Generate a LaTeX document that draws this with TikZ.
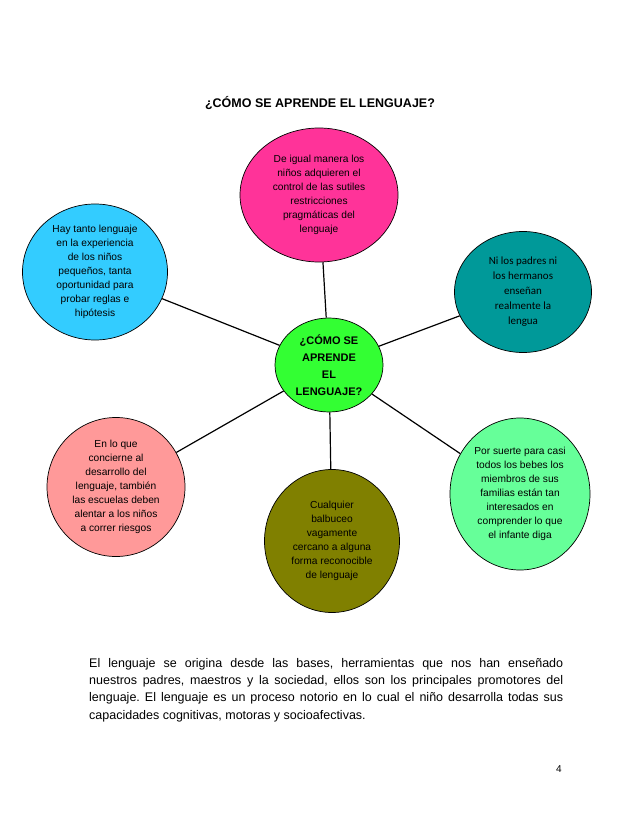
\documentclass[tikz,border=0pt]{standalone}
\usepackage{fontspec}
\setmainfont{Liberation Sans}
\newfontfamily\tealfont{Carlito}
\usetikzlibrary{shapes.geometric}
\definecolor{Pink}{HTML}{FF3399}
\definecolor{Sky}{HTML}{33CCFF}
\definecolor{Teal}{HTML}{009999}
\definecolor{Lime}{HTML}{33FF33}
\definecolor{Salmon}{HTML}{FF9999}
\definecolor{Mint}{HTML}{66FF99}
\definecolor{Olive}{HTML}{808000}
\frenchspacing

\begin{document}
\begin{tikzpicture}[
  x=1pt, y=-1pt,
  bubble/.style={ellipse, draw=black, line width=0.7pt, inner sep=0pt, align=center,
    font=\fontsize{10.2}{14}\selectfont},
  link/.style={draw=black, line width=1.2pt}
]
\useasboundingbox[fill=white] (0,0) rectangle (638,826);

\node[font=\bfseries\fontsize{12.5}{14}\selectfont] (title) at (320,103) {¿CÓMO SE APRENDE EL LENGUAJE?};

% centre and the six bubbles round it
\node[bubble, fill=Lime, minimum width=108pt, minimum height=94pt,
  font=\bfseries\fontsize{11}{17}\selectfont] (hub) at (329,365) {¿CÓMO SE\\APRENDE\\EL\\LENGUAJE?};
\node[bubble, fill=Pink, minimum width=158pt, minimum height=134pt] (pragm) at (319,195)
  {De igual manera los\\niños adquieren el\\control de las sutiles\\restricciones\\pragmáticas del\\lenguaje};
\node[bubble, fill=Sky, minimum width=145pt, minimum height=136pt] (exper) at (95,272)
  {Hay tanto lenguaje\\en la experiencia\\de los niños\\pequeños, tanta\\oportunidad para\\probar reglas e\\hipótesis};
\node[bubble, fill=Teal, minimum width=137pt, minimum height=121pt,
  font=\tealfont\fontsize{11}{15}\selectfont] (padres) at (523,292)
  {Ni los padres ni\\los hermanos\\enseñan\\realmente la\\lengua};
\node[bubble, fill=Salmon, minimum width=138pt, minimum height=139pt] (escuela) at (116,487)
  {En lo que\\concierne al\\desarrollo del\\lenguaje, también\\las escuelas deben\\alentar a los niños\\a correr riesgos};
\node[bubble, fill=Mint, minimum width=140pt, minimum height=152pt] (familia) at (520,494)
  {Por suerte para casi\\todos los bebes los\\miembros de sus\\familias están tan\\interesados en\\comprender lo que\\el infante diga};
\node[bubble, fill=Olive, minimum width=135pt, minimum height=143pt] (balbuceo) at (332,541)
  {Cualquier\\balbuceo\\vagamente\\cercano a alguna\\forma reconocible\\de lenguaje};

\draw[link] (hub) -- (pragm);
\draw[link] (hub) -- (exper);
\draw[link] (hub) -- (padres);
\draw[link] (hub) -- (escuela);
\draw[link] (hub) -- (familia);
\draw[link] (hub) -- (balbuceo);

\node[anchor=north west, inner sep=0pt, text width=474pt, align=justify,
  font=\fontsize{12.5}{17.3}\selectfont] (texto) at (89,658)
  {El lenguaje se origina desde las bases, herramientas que nos han enseñado\linebreak
   nuestros padres, maestros y la sociedad, ellos son los principales promotores del\linebreak
   lenguaje. El lenguaje es un proceso notorio en lo cual el niño desarrolla todas sus\linebreak
   capacidades cognitivas, motoras y socioafectivas.};

\node[font=\fontsize{10}{12}\selectfont] (pagina) at (559,769) {4};
\end{tikzpicture}
\end{document}
